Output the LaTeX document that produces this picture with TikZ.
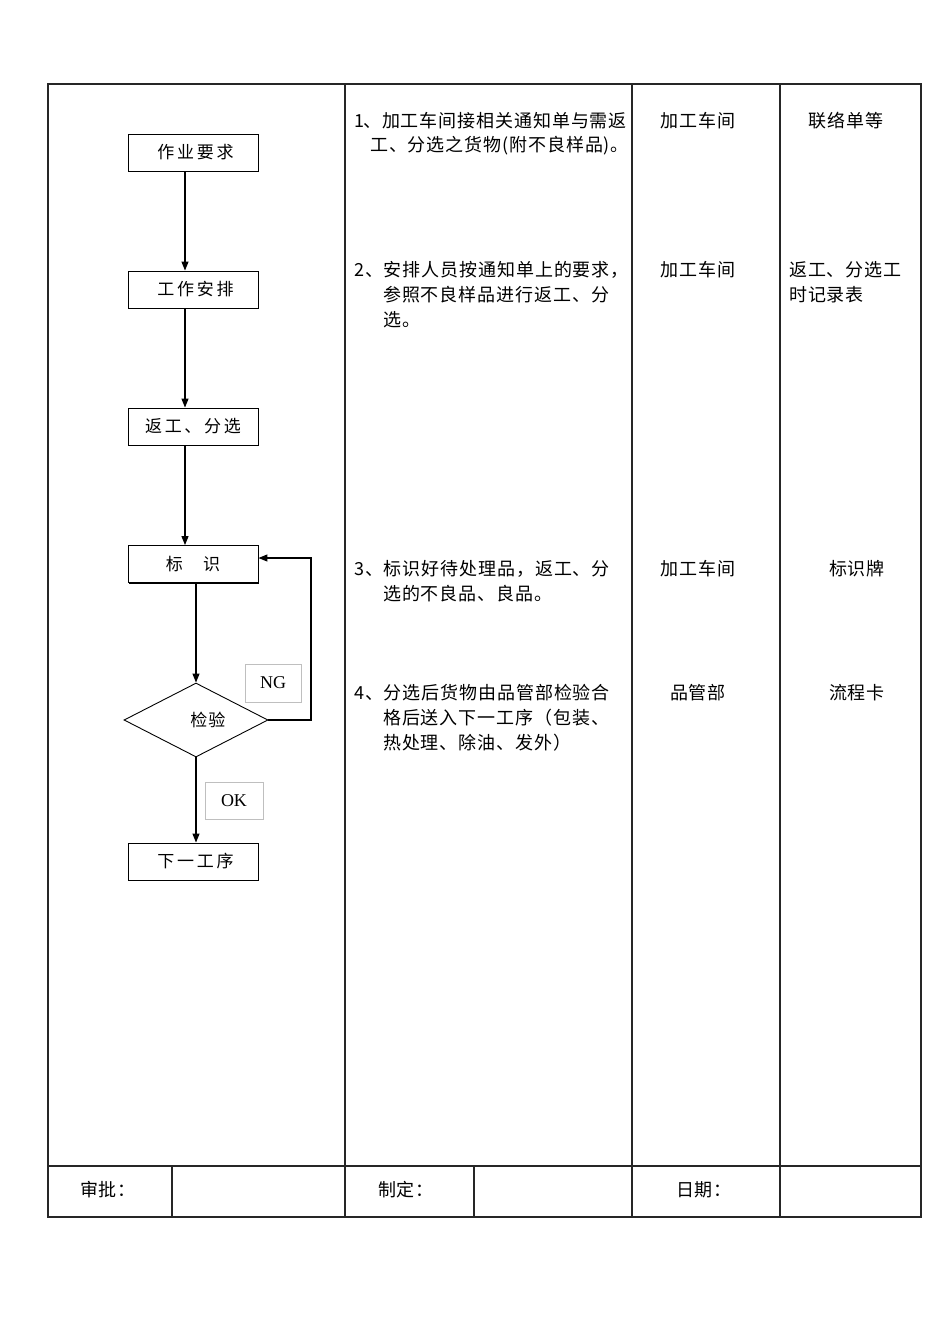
\documentclass[tikz,border=0pt]{standalone}
\usepackage{fontspec}
\setmainfont{Liberation Serif}
\newfontfamily\cjk{Noto Sans CJK SC}[LetterSpace=5]
\newfontfamily\cjkwide{Noto Sans CJK SC}[LetterSpace=16]
\usetikzlibrary{shapes.geometric,shadows,arrows.meta}
\begin{document}
\begin{tikzpicture}[x=1pt,y=-1pt,
  grid/.style={line width=1.1pt,draw=black!85},
  fbox/.style={draw,line width=0.9pt,minimum width=130pt,minimum height=37pt,inner sep=0pt,fill=white,
     drop shadow={shadow xshift=1.2pt,shadow yshift=-1.2pt,fill=black,opacity=1},
     font=\cjkwide\fontsize{17}{20}\selectfont},
  lbl/.style={draw=black!25,line width=0.6pt,inner sep=0pt,font=\fontsize{18}{20}\selectfont},
  arr/.style={line width=1.2pt,-{Triangle[length=9pt,width=7pt]}},
  txt/.style={anchor=west,inner sep=0pt,font=\cjk\fontsize{18}{20}\selectfont},
  ctxt/.style={inner sep=0pt,font=\cjk\fontsize{18}{20}\selectfont}
]
\useasboundingbox (0,0) rectangle (950,1344);
\fill[white] (0,0) rectangle (950,1344);
% table
\draw[grid] (48,84) rectangle (921,1217);
\draw[grid] (345,84) -- (345,1217);
\draw[grid] (632,84) -- (632,1217);
\draw[grid] (780,84) -- (780,1217);
\draw[grid] (48,1166) -- (921,1166);
\draw[grid] (172,1166) -- (172,1217);
\draw[grid] (474,1166) -- (474,1217);
% flowchart nodes
\node[fbox] (a) at (193,152.5) {\hspace{5pt}作业要求};
\node[fbox] (b) at (193,289.5) {\hspace{5pt}工作安排};
\node[fbox] (c) at (193,426.5) {返工、分选};
\node[fbox] (d) at (193,564) {标\hspace{1.2em}识};
\node[diamond,draw,line width=0.9pt,aspect=1.95,minimum width=144pt,minimum height=74pt,inner sep=0pt,
      font=\cjk\fontsize{17}{20}\selectfont] (e) at (196,720) {\hspace{1.4em}检验};
\node[fbox] (f) at (193,861.5) {\hspace{5pt}下一工序};
\node[lbl,minimum width=56pt,minimum height=38pt] (ng) at (273,683) {NG};
\node[lbl,minimum width=58pt,minimum height=37pt] (ok) at (234,800.5) {OK};
% connectors
\draw[arr] (a.south -| 185,0) -- (b.north -| 185,0);
\draw[arr] (b.south -| 185,0) -- (c.north -| 185,0);
\draw[arr] (c.south -| 185,0) -- (d.north -| 185,0);
\draw[arr] (d.south -| e.north) -- (e.north);
\draw[arr] (e.south) -- (f.north -| e.south);
\coordinate (ng1) at (311,720);
\coordinate (ng2) at (311,558);
\draw[arr] (e.east) -- (ng1) -- (ng2) -- (ng2 -| d.east);
% column 2 text
\node[txt] (t1a) at (354,121) {1\kern-1pt 、加工车间接相关通知单与需返};
\node[txt] (t1b) at (370,146) {工、分选之货物(附不良样品)。};
\node[txt] (t2a) at (354,270) {2、安排人员按通知单上的要求，};
\node[txt] (t2b) at (383,295) {参照不良样品进行返工、分};
\node[txt] (t2c) at (383,320) {选。};
\node[txt] (t3a) at (354,569) {3、标识好待处理品，返工、分};
\node[txt] (t3b) at (383,594) {选的不良品、良品。};
\node[txt] (t4a) at (354,693) {4、分选后货物由品管部检验合};
\node[txt] (t4b) at (383,718) {格后送入下一工序（包装、};
\node[txt] (t4c) at (383,743) {热处理、除油、发外）};
% column 3
\node[ctxt] (r1) at (698,121) {加工车间};
\node[ctxt] (r2) at (698,270) {加工车间};
\node[ctxt] (r3) at (698,569) {加工车间};
\node[ctxt] (r4) at (698,693) {品管部};
% column 4
\node[ctxt] (s1) at (846,121) {联络单等};
\node[txt] (s2a) at (789,270) {返工、分选工};
\node[txt] (s2b) at (789,295) {时记录表};
\node[ctxt] (s3) at (857,569) {标识牌};
\node[ctxt] (s4) at (857,693) {流程卡};
% bottom row
\node[ctxt] (u1) at (108,1190) {审批：};
\node[ctxt] (u2) at (406,1190) {制定：};
\node[ctxt] (u3) at (704,1190) {日期：};
\end{tikzpicture}
\end{document}
